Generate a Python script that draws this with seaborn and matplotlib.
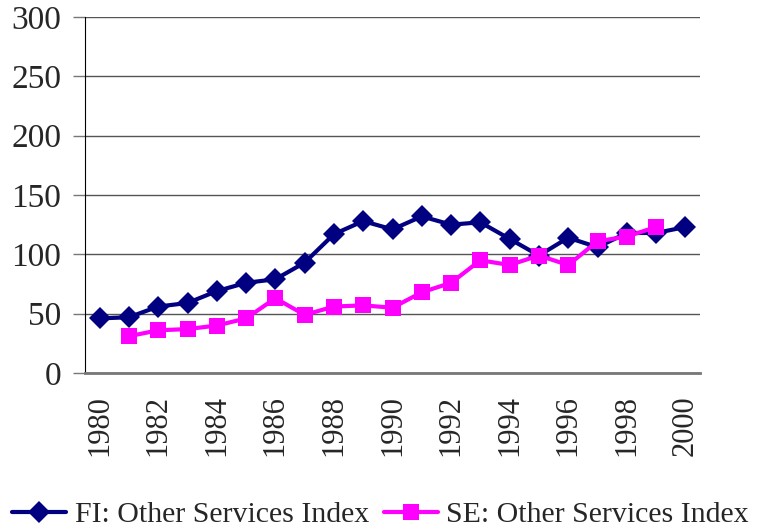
import pandas as pd
import seaborn as sns
import matplotlib.pyplot as plt
import numpy as np

# values
years = list(range(1980, 2001))
fi_index = [46, 47, 56, 59, 69, 76, 79, 93, 117, 128, 121,
            132, 125, 127, 113, 99, 114, 106, 118, 118, 123]
se_index = [np.nan, 31, 36, 37, 40, 46, 63, 49, 56, 57, 55,
            68, 76, 95, 91, 99, 91, 111, 115, 123, np.nan]
series_names = ["FI: Other Services Index", "SE: Other Services Index"]

df = pd.DataFrame({"year": years, series_names[0]: fi_index, series_names[1]: se_index})
df_long = df.melt(id_vars="year", var_name="series", value_name="index").dropna()

sns.set_style("white")
plt.rcParams["font.family"] = ["Liberation Serif", "DejaVu Serif"]

fig = plt.figure(figsize=(7.61, 5.30), dpi=100)
ax = fig.add_axes([85 / 761, 1 - 373 / 530, 615 / 761, 356 / 530])

sns.lineplot(data=df_long, x="year", y="index", hue="series", style="series",
             palette=["#000080", "#FF00FF"], markers=["D", "s"], dashes=False,
             markersize=11, markeredgewidth=0, linewidth=3, ax=ax)

ax.set_xlim(1979.5, 2000.5)
ax.set_ylim(0, 300)
ax.set_yticks(range(0, 301, 50))
ax.yaxis.grid(True, color="#555555", linewidth=1)
ax.set_axisbelow(True)

ax.set_xticks(years[::2])
ax.set_xticklabels([str(y) for y in years[::2]], rotation=90)
ax.set_xticks(np.arange(1979.5, 2001, 1), minor=True)
ax.tick_params(axis="x", which="major", length=0, labelsize=22, pad=16)
ax.tick_params(axis="x", which="minor", length=8, width=1, color="black", direction="out")
ax.tick_params(axis="y", length=9, width=1, color="#777777", labelsize=24, left=True, pad=8)
ax.set_xlabel("")
ax.set_ylabel("")

for s in ["top", "right"]:
    ax.spines[s].set_visible(False)
ax.spines["left"].set_color("black")
ax.spines["bottom"].set_color("#777777")
ax.spines["bottom"].set_linewidth(2)

handles, labels = ax.get_legend_handles_labels()
ax.legend(handles, labels, loc="center", bbox_to_anchor=(0.5, 15 / 530),
          bbox_transform=fig.transFigure, ncol=2, frameon=False, fontsize=21.5,
          handlelength=1.8, columnspacing=0.5, handletextpad=0.3)

fig.savefig("out.png", dpi=100)
